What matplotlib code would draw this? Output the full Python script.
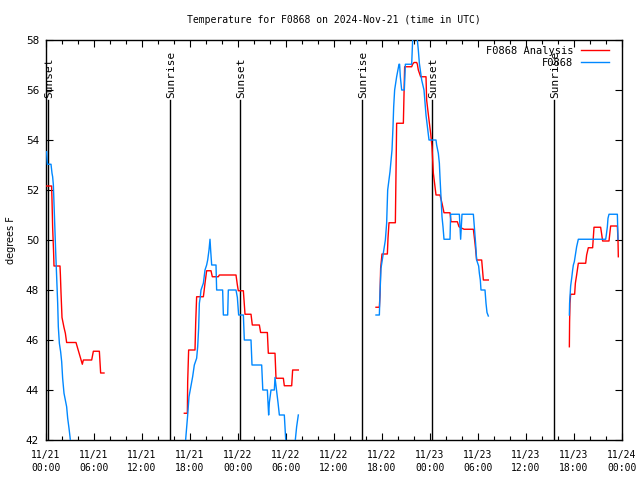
import numpy as np
import matplotlib
matplotlib.use("Agg")
import matplotlib.pyplot as plt
from matplotlib.ticker import MultipleLocator

# ---- data (hours since 2024-11-21 00:00 UTC, degrees F) ----
analysis_t1 = [0.08, 0.70, 0.75, 0.83, 0.95, 1.0, 1.75, 1.8, 1.875, 2.0, 2.25, 2.42, 2.58, 3.75, 4.54, 4.67, 5.71, 5.92, 6.67, 6.83, 7.25]
analysis_v1 = [52.16, 52.16, 51.6, 50.5, 49.5, 48.96, 48.96, 48.6, 47.9, 46.9, 46.5, 46.27, 45.9, 45.9, 45.03, 45.2, 45.2, 45.55, 45.55, 44.68, 44.68]

analysis_t2 = [17.29, 17.67, 17.71, 17.83, 18.625, 18.71, 18.83, 19.67, 19.75, 19.875, 20.08, 20.625, 20.79, 21.54, 21.67, 23.75, 23.92, 24.04, 24.67, 24.875, 25.625, 25.79, 26.67, 26.83, 27.67, 27.79, 28.625, 28.75, 29.67, 29.79, 30.71, 30.83, 31.54]
analysis_v2 = [43.07, 43.07, 44.33, 45.6, 45.6, 46.67, 47.73, 47.73, 47.93, 48.27, 48.77, 48.77, 48.53, 48.53, 48.6, 48.6, 48.2, 47.97, 47.97, 47.03, 47.03, 46.6, 46.6, 46.3, 46.3, 45.47, 45.47, 44.47, 44.47, 44.17, 44.17, 44.8, 44.8]

analysis_t3 = [41.25, 41.67, 41.75, 41.83, 42.0, 42.67, 42.75, 42.875, 43.67, 43.75, 43.83, 44.67, 44.83, 45.71, 45.83, 46.0, 46.33, 46.42, 46.54, 46.83, 47.5, 47.58, 47.875, 48.08, 48.25, 48.42, 48.75, 49.25, 49.5, 49.75, 50.5, 50.625, 51.42, 51.625, 52.25, 53.42, 53.625, 53.83, 54.46, 54.67, 55.29]
analysis_v3 = [47.31, 47.31, 47.8, 48.87, 49.44, 49.44, 50.07, 50.69, 50.69, 52.69, 54.67, 54.67, 56.93, 56.93, 57.03, 57.1, 57.1, 57.03, 56.8, 56.53, 56.53, 55.6, 54.8, 54.27, 53.73, 52.67, 51.8, 51.8, 51.47, 51.09, 51.09, 50.73, 50.73, 50.53, 50.43, 50.43, 49.87, 49.2, 49.2, 48.4, 48.4]

analysis_t4 = [65.42, 65.45, 65.5, 65.58, 66.08, 66.17, 66.33, 66.54, 67.46, 67.58, 67.79, 68.33, 68.5, 69.33, 69.46, 69.58, 70.375, 70.58, 71.42, 71.5, 71.54]
analysis_v4 = [45.73, 46.73, 47.47, 47.83, 47.83, 48.27, 48.6, 49.07, 49.07, 49.4, 49.69, 49.69, 50.51, 50.51, 50.23, 49.96, 49.96, 50.56, 50.56, 50.0, 49.33]

obs_t1 = [0.08, 0.17, 0.625, 0.75, 0.83, 0.92, 1.04, 1.21, 1.33, 1.46, 1.54, 1.67, 1.83, 1.96, 2.08, 2.25, 2.42, 2.58, 2.71, 2.875, 3.0, 3.2]
obs_v1 = [53.53, 53.03, 53.03, 52.67, 52.53, 52.2, 51.08, 49.53, 48.53, 47.47, 46.53, 45.87, 45.53, 45.13, 44.47, 43.87, 43.6, 43.33, 42.87, 42.47, 42.13, 41.5]

obs_t2 = [17.4, 17.58, 17.71, 17.875, 18.125, 18.33, 18.54, 18.83, 18.96, 19.08, 19.17, 19.29, 19.375, 19.67, 19.875, 20.08, 20.21, 20.375, 20.5, 20.58, 20.71, 21.25, 21.33, 22.08, 22.17, 22.71, 22.79, 23.75, 23.92, 24.08, 24.67, 24.79, 25.625, 25.75, 26.96, 27.1, 27.67, 27.83, 27.92, 28.125, 28.54, 28.625, 29.0, 29.17, 29.79, 30.0, 30.6, 31.1, 31.33, 31.54]
obs_v2 = [41.8, 42.47, 43.0, 43.73, 44.16, 44.53, 45.0, 45.27, 45.73, 46.47, 47.47, 47.73, 48.0, 48.27, 48.8, 49.0, 49.2, 49.6, 50.03, 49.6, 49.0, 49.0, 48.0, 48.0, 47.0, 47.0, 48.0, 48.0, 47.7, 47.0, 47.0, 46.0, 46.0, 45.0, 45.0, 44.0, 44.0, 43.0, 43.5, 44.0, 44.0, 44.5, 43.5, 43.0, 43.0, 41.8, 41.3, 41.8, 42.53, 43.0]

obs_t3 = [41.25, 41.67, 41.75, 41.875, 42.17, 42.42, 42.58, 42.71, 43.0, 43.25, 43.375, 43.46, 43.58, 43.83, 44.125, 44.2, 44.29, 44.46, 44.79, 44.92, 45.71, 45.83, 46.1, 46.42, 46.54, 46.67, 46.96, 47.25, 47.5, 47.875, 48.75, 48.83, 49.04, 49.17, 49.25, 49.375, 49.5, 49.625, 49.75, 50.5, 50.58, 51.67, 51.75, 51.83, 52.0, 53.42, 53.6, 53.7, 53.83, 54.08, 54.17, 54.29, 54.375, 54.875, 55.0, 55.125, 55.29]
obs_v3 = [47.0, 47.0, 47.87, 48.87, 49.47, 50.0, 50.67, 52.0, 52.73, 53.6, 54.53, 55.33, 56.0, 56.53, 57.03, 57.03, 56.53, 56.0, 56.0, 57.03, 57.03, 58.0, 58.5, 58.0, 57.6, 57.07, 56.4, 56.0, 55.0, 54.0, 54.0, 53.8, 53.47, 53.07, 52.5, 51.73, 50.93, 50.53, 50.03, 50.03, 51.03, 51.03, 50.5, 50.03, 51.03, 51.03, 50.27, 49.87, 49.2, 48.96, 48.67, 48.4, 48.0, 48.0, 47.47, 47.1, 46.96]

obs_t4 = [65.42, 65.45, 65.58, 65.71, 65.83, 65.92, 66.04, 66.17, 66.33, 66.54, 69.96, 70.04, 70.17, 70.25, 70.375, 71.42, 71.5]
obs_v4 = [47.0, 47.47, 48.16, 48.47, 48.8, 49.0, 49.13, 49.4, 49.73, 50.03, 50.03, 50.2, 50.53, 50.87, 51.03, 51.03, 50.03]

sunset_times = [0.3, 24.3, 48.3]
sunrise_times = [15.5, 39.5, 63.45]

xtick_hours = [0, 6, 12, 18, 24, 30, 36, 42, 48, 54, 60, 66, 72]
xtick_labels = ["11/21\n00:00", "11/21\n06:00", "11/21\n12:00", "11/21\n18:00",
                "11/22\n00:00", "11/22\n06:00", "11/22\n12:00", "11/22\n18:00",
                "11/23\n00:00", "11/23\n06:00", "11/23\n12:00", "11/23\n18:00",
                "11/24\n00:00"]
ytick_values = [42, 44, 46, 48, 50, 52, 54, 56, 58]


def join(pairs):
    ts, vs = [], []
    for t, v in pairs:
        ts += list(t) + [np.nan]
        vs += list(v) + [np.nan]
    return np.array(ts), np.array(vs)


an_t, an_v = join([(analysis_t1, analysis_v1), (analysis_t2, analysis_v2),
                   (analysis_t3, analysis_v3), (analysis_t4, analysis_v4)])
ob_t, ob_v = join([(obs_t1, obs_v1), (obs_t2, obs_v2),
                   (obs_t3, obs_v3), (obs_t4, obs_v4)])

mono = "DejaVu Sans Mono"
fig = plt.figure(figsize=(6.4, 4.8), dpi=100)
ax = fig.add_axes([46 / 640, 1 - 440 / 480, 576 / 640, 400 / 480])

ax.plot(an_t, an_v, color="#ff0000", lw=1.0, label="F0868 Analysis", zorder=3)
ax.plot(ob_t, ob_v, color="#0088ff", lw=1.0, label="F0868", zorder=3)

line_top = 55.6
for t in sunset_times:
    ax.plot([t, t], [42, line_top], color="black", lw=1.0, zorder=2)
    ax.text(t + 0.15, 55.7, "Sunset", rotation=90, ha="center", va="bottom",
            family=mono, fontsize=8)
for t in sunrise_times:
    ax.plot([t, t], [42, line_top], color="black", lw=1.0, zorder=2)
    ax.text(t + 0.15, 55.7, "Sunrise", rotation=90, ha="center", va="bottom",
            family=mono, fontsize=8)

ax.set_xlim(0, 72)
ax.set_ylim(42, 58)
ax.set_xticks(xtick_hours)
ax.set_xticklabels(xtick_labels, family=mono, fontsize=7, linespacing=1.45)
ax.xaxis.set_minor_locator(MultipleLocator(2))
ax.set_yticks(ytick_values)
ax.set_yticklabels([str(v) for v in ytick_values], family="DejaVu Sans", fontsize=7.5)
ax.tick_params(axis="both", which="both", direction="in", top=True, right=True, width=0.8)
ax.tick_params(axis="x", which="major", length=5, pad=7)
ax.tick_params(axis="x", which="minor", length=3)
ax.tick_params(axis="y", which="major", length=5, pad=5)
for s in ax.spines.values():
    s.set_linewidth(1.0)

fig.text(334 / 640, 1 - 20 / 480, "Temperature for F0868 on 2024-Nov-21 (time in UTC)",
         ha="center", va="center", family=mono, fontsize=7)
fig.text(11 / 640, 1 - 240 / 480, "degrees F", rotation=90, ha="center", va="center",
         family="DejaVu Sans", fontsize=7)

leg = ax.legend(loc="upper right", bbox_to_anchor=(1 - 13 / 576, 1 - 6 / 400),
                markerfirst=False, frameon=False, handlelength=2.7, handletextpad=0.7,
                labelspacing=0.2, borderpad=0, borderaxespad=0,
                prop={"family": mono, "size": 7.5})

fig.savefig("out.png", dpi=100)
